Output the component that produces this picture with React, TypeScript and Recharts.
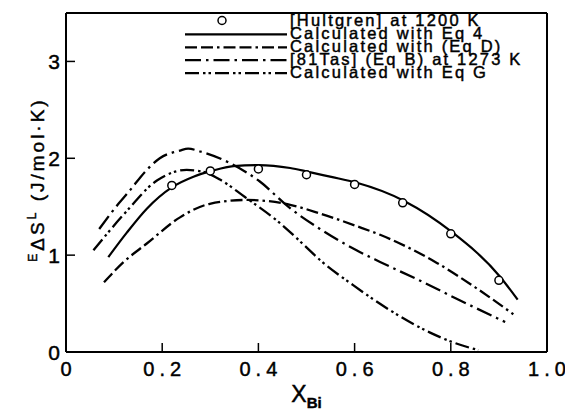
import React from 'react';
import { ComposedChart, Line, Scatter, XAxis, YAxis, Legend } from 'recharts';

const FONT = '"Liberation Sans", Arial, Helvetica, sans-serif';

// tick values
const xTicks = [0, 0.2, 0.4, 0.6, 0.8, 1.0];
const yTicks = [0, 1, 2, 3];
const frameXTicks = [0.2, 0.4, 0.6, 0.8];
const frameYTicks = [1, 2, 3];

// legend labels
const seriesNames = [
  '[Hultgren] at 1200 K',
  'Calculated with Eq 4',
  'Calculated with (Eq D)',
  '[81Tas] (Eq B) at 1273 K',
  'Calculated with Eq G',
];

// [Hultgren] at 1200 K (circles)
const hultgrenX = [0.22, 0.3, 0.4, 0.5, 0.6, 0.7, 0.8, 0.9];
const hultgrenY = [1.72, 1.87, 1.89, 1.83, 1.73, 1.54, 1.22, 0.74];

// Calculated with Eq 4 (solid)
const eq4X = [0.088, 0.126, 0.168, 0.22, 0.265, 0.303, 0.348, 0.4, 0.466, 0.504, 0.549, 0.603, 0.703, 0.802, 0.902, 0.939];
const eq4Y = [0.98, 1.23, 1.48, 1.7, 1.81, 1.87, 1.92, 1.93, 1.9, 1.86, 1.81, 1.75, 1.56, 1.24, 0.78, 0.54];

// Calculated with (Eq D)
const eqDX = [0.079, 0.12, 0.168, 0.237, 0.299, 0.376, 0.466, 0.528, 0.604, 0.653, 0.771, 0.85, 0.93];
const eqDY = [0.72, 0.93, 1.12, 1.39, 1.53, 1.57, 1.52, 1.43, 1.3, 1.21, 0.92, 0.67, 0.39];

// [81Tas] (Eq B) at 1273 K
const tasX = [0.069, 0.109, 0.133, 0.168, 0.195, 0.237, 0.254, 0.279, 0.341, 0.403, 0.462, 0.528, 0.604, 0.653, 0.743, 0.812, 0.913];
const tasY = [1.27, 1.53, 1.67, 1.88, 2.0, 2.08, 2.1, 2.07, 1.95, 1.76, 1.5, 1.27, 1.05, 0.93, 0.72, 0.55, 0.31];

// Calculated with Eq G
const eqGX = [0.057, 0.12, 0.189, 0.251, 0.285, 0.32, 0.372, 0.445, 0.5, 0.528, 0.597, 0.674, 0.757, 0.81, 0.857];
const eqGY = [1.05, 1.42, 1.77, 1.88, 1.86, 1.78, 1.6, 1.33, 1.08, 0.95, 0.69, 0.43, 0.2, 0.09, 0.02];

const pts = (xs: number[], ys: number[]) => xs.map((x, i) => ({ x, y: ys[i] }));

const hultgrenData = pts(hultgrenX, hultgrenY);
const eq4Data = pts(eq4X, eq4Y);
const eqDData = pts(eqDX, eqDY);
const tasData = pts(tasX, tasY);
const eqGData = pts(eqGX, eqGY);

const DASH_D = '12 4 12 4 2.5 4';
const DASH_TAS = '16 5 2.5 5';
const DASH_G = '14 4 2.5 3 2.5 4';

const TEXT_STROKE = { stroke: '#000', strokeWidth: 0.45 };

const XTick = (props: any) => {
  const { x, y, payload } = props;
  const v = payload.value;
  const label = v === 0 ? '0' : v === 1 ? '1.0' : v.toFixed(1);
  return (
    <text x={x} y={y} dy="0.71em" textAnchor="middle" fontFamily={FONT} fontSize={20} fill="#000" {...TEXT_STROKE}>
      <tspan letterSpacing={5}>{label.slice(0, -1)}</tspan>
      <tspan>{label.slice(-1)}</tspan>
    </text>
  );
};

const YTick = (props: any) => {
  const { x, y, payload } = props;
  return (
    <text x={x} y={y} dy="0.36em" textAnchor="end" fontFamily={FONT} fontSize={21} fill="#000" {...TEXT_STROKE}>
      {String(payload.value)}
    </text>
  );
};

const XLabel = (props: any) => {
  const vb = props.viewBox;
  const cx = vb.x + vb.width / 2;
  return (
    <text x={cx} y={vb.y + 50} textAnchor="middle" fontFamily={FONT} fill="#000" {...TEXT_STROKE}>
      <tspan fontSize={23}>X</tspan>
      <tspan fontSize={15} fontWeight="bold" dy={6}>Bi</tspan>
    </text>
  );
};

const YLabel = (props: any) => {
  const vb = props.viewBox;
  const cx = vb.x + 44;
  const cy = vb.y + vb.height / 2 - 3;
  return (
    <text
      x={cx}
      y={cy}
      transform={`rotate(-90, ${cx}, ${cy})`}
      textAnchor="middle"
      fontFamily={FONT}
      fontSize={19}
      letterSpacing={3}
      fill="#000"
      {...TEXT_STROKE}
    >
      <tspan fontSize={12} dy={-7}>E</tspan>
      <tspan dy={7}>ΔS</tspan>
      <tspan fontSize={12} dy={-8}>L</tspan>
      <tspan dy={8}> (J/mol·K)</tspan>
    </text>
  );
};

const legendStyles = [
  { dash: undefined as string | undefined, marker: true },
  { dash: undefined as string | undefined, marker: false },
  { dash: DASH_D, marker: false },
  { dash: DASH_TAS, marker: false },
  { dash: DASH_G, marker: false },
];

const LegendBox = () => (
  <svg width={565} height={90} style={{ overflow: 'visible', display: 'block' }}>
    {seriesNames.map((name, i) => {
      const cy = 20.5 + i * 12.9;
      const st = legendStyles[i];
      return (
        <g key={name}>
          {st.marker ? (
            <circle cx={222} cy={cy} r={4} fill="#fff" stroke="#000" strokeWidth={1.5} />
          ) : (
            <line x1={185} x2={287} y1={cy + 1} y2={cy + 1} stroke="#000" strokeWidth={2.3} strokeDasharray={st.dash} />
          )}
          <text x={290} y={cy} dy="0.36em" fontFamily={FONT} fontSize={16.5} letterSpacing={2.2} fill="#000" {...TEXT_STROKE}>
            {name}
          </text>
        </g>
      );
    })}
  </svg>
);

export default function App() {
  return (
    <div style={{ position: 'absolute', left: 0, top: 0, background: '#fff' }}>
      <ComposedChart width={565} height={410} margin={{ top: 12, right: 17, bottom: 0, left: 0 }}>
        <XAxis
          dataKey="x"
          type="number"
          domain={[0, 1]}
          ticks={xTicks}
          allowDataOverflow
          height={58}
          tickSize={-9}
          tickMargin={19}
          tick={<XTick />}
          axisLine={{ stroke: '#000', strokeWidth: 2 }}
          tickLine={{ stroke: '#000', strokeWidth: 1.5 }}
          label={<XLabel />}
        />
        <XAxis
          xAxisId="top"
          orientation="top"
          type="number"
          domain={[0, 1]}
          ticks={frameXTicks}
          allowDataOverflow
          height={1}
          tickSize={-9}
          tick={false}
          axisLine={{ stroke: '#000', strokeWidth: 2 }}
          tickLine={{ stroke: '#000', strokeWidth: 1.5 }}
        />
        <YAxis
          dataKey="y"
          type="number"
          domain={[0, 3.5]}
          ticks={yTicks}
          allowDataOverflow
          width={66}
          tickSize={-9}
          tickMargin={15}
          tick={<YTick />}
          axisLine={{ stroke: '#000', strokeWidth: 2 }}
          tickLine={{ stroke: '#000', strokeWidth: 1.5 }}
          label={<YLabel />}
        />
        <YAxis
          yAxisId="right"
          orientation="right"
          type="number"
          domain={[0, 3.5]}
          ticks={frameYTicks}
          allowDataOverflow
          width={1}
          tickSize={-9}
          tick={false}
          axisLine={{ stroke: '#000', strokeWidth: 2 }}
          tickLine={{ stroke: '#000', strokeWidth: 1.5 }}
        />
        <Legend content={() => <LegendBox />} wrapperStyle={{ left: 0, top: 0, width: 0, height: 0 }} />
        <Line data={eq4Data} dataKey="y" type="monotone" stroke="#000" strokeWidth={2.2} dot={false} isAnimationActive={false} name={seriesNames[1]} />
        <Line data={eqDData} dataKey="y" type="monotone" stroke="#000" strokeWidth={2.3} strokeDasharray={DASH_D} dot={false} isAnimationActive={false} name={seriesNames[2]} />
        <Line data={tasData} dataKey="y" type="monotone" stroke="#000" strokeWidth={2.3} strokeDasharray={DASH_TAS} dot={false} isAnimationActive={false} name={seriesNames[3]} />
        <Line data={eqGData} dataKey="y" type="monotone" stroke="#000" strokeWidth={2.3} strokeDasharray={DASH_G} dot={false} isAnimationActive={false} name={seriesNames[4]} />
        <Scatter
          data={hultgrenData}
          dataKey="y"
          isAnimationActive={false}
          name={seriesNames[0]}
          shape={(p: any) => <circle cx={p.cx} cy={p.cy} r={4} fill="#fff" stroke="#000" strokeWidth={1.5} />}
        />
      </ComposedChart>
    </div>
  );
}
